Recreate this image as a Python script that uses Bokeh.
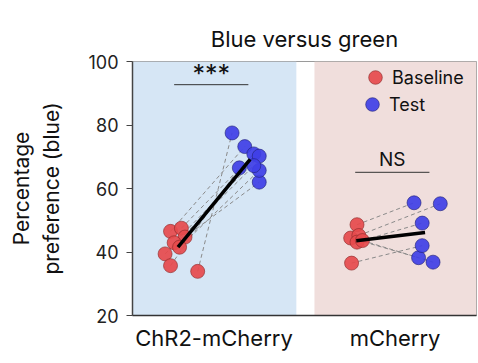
import numpy as np
from bokeh.plotting import figure
from bokeh.models import (Range1d, FixedTicker, BoxAnnotation, Legend, LegendItem,
                          ColumnDataSource)
from bokeh.core.properties import value
from bokeh.embed import file_html
from bokeh.resources import INLINE

FONT = "Inter"

categories = ["ChR2-mCherry", "mCherry"]
title_text = "Blue versus green"
y_label = "Percentage\npreference (blue)"
y_ticks = [20, 40, 60, 80, 100]
legend_labels = ["Baseline", "Test"]

# paired values (percentage preference for blue)
chr2_baseline = [46.5, 47.5, 44.7, 42.9, 41.5, 39.4, 35.7, 33.9]
chr2_test = [73.2, 70.9, 62.0, 70.2, 65.7, 67.2, 66.5, 77.5]
chr2_baseline_dx = [-0.24, -0.18, -0.16, -0.22, -0.19, -0.27, -0.24, -0.09]
chr2_test_dx = [0.17, 0.22, 0.25, 0.25, 0.25, 0.22, 0.14, 0.10]

mcherry_baseline = [48.6, 44.4, 45.2, 43.1, 43.6, 36.5]
mcherry_test = [55.5, 38.2, 55.2, 49.1, 36.8, 42.0]
mcherry_baseline_dx = [-0.21, -0.245, -0.20, -0.21, -0.18, -0.24]
mcherry_test_dx = [0.105, 0.13, 0.25, 0.15, 0.21, 0.15]

sig_labels = ["***", "NS"]
sig_line_y = [92.7, 65.1]

RED = "#e64a4c"
RED_EDGE = "#8e2a2a"
BLUE = "#3f3fe6"
BLUE_EDGE = "#22227a"

p = figure(width=478, height=363, output_backend="svg", toolbar_location=None,
           x_range=Range1d(-0.45, 1.45), y_range=Range1d(20, 100),
           min_border_left=132, min_border_right=2, min_border_top=61, min_border_bottom=48,
           title=title_text)
p.title.align = "center"
p.title.text_font = FONT
p.title.text_font_size = "22px"
p.title.text_font_style = "normal"
p.title.text_color = "#111111"
p.title.standoff = 20

p.xgrid.visible = False
p.ygrid.visible = False
p.outline_line_color = "#9a9a9a"
p.outline_line_width = 1
p.background_fill_color = "white"

# shaded group panels
p.add_layout(BoxAnnotation(left=-0.45, right=0.455, fill_color="#d6e6f5", fill_alpha=1.0,
                           line_alpha=0, level="underlay"))
p.add_layout(BoxAnnotation(left=0.555, right=1.45, fill_color="#f0dedc", fill_alpha=1.0,
                           line_alpha=0, level="underlay"))

# axes
p.yaxis.ticker = FixedTicker(ticks=y_ticks)
p.yaxis.major_tick_out = 6
p.yaxis.major_tick_in = 0
p.yaxis.minor_tick_line_color = None
p.yaxis.axis_line_color = "#444444"
p.yaxis.axis_line_width = 1.5
p.yaxis.major_tick_line_color = "#444444"
p.yaxis.major_label_text_font = FONT
p.yaxis.major_label_text_font_size = "18px"
p.yaxis.major_label_text_color = "#222222"
p.yaxis.major_label_standoff = 8
p.yaxis.axis_label = y_label
p.yaxis.axis_label_text_font = FONT
p.yaxis.axis_label_text_font_size = "21px"
p.yaxis.axis_label_text_font_style = "normal"
p.yaxis.axis_label_text_color = "#111111"
p.yaxis.axis_label_standoff = 21

p.xaxis.ticker = FixedTicker(ticks=list(range(len(categories))))
p.xaxis.major_label_overrides = {i: c for i, c in enumerate(categories)}
p.xaxis.major_tick_out = 0
p.xaxis.major_tick_in = 0
p.xaxis.minor_tick_line_color = None
p.xaxis.axis_line_color = "#333333"
p.xaxis.axis_line_width = 1.3
p.xaxis.major_label_text_font = FONT
p.xaxis.major_label_text_font_size = "22px"
p.xaxis.major_label_text_color = "#111111"
p.xaxis.major_label_standoff = 9

groups = [
    (chr2_baseline, chr2_test, chr2_baseline_dx, chr2_test_dx),
    (mcherry_baseline, mcherry_test, mcherry_baseline_dx, mcherry_test_dx),
]

base_renderers = []
test_renderers = []
for gi, (b, t, bdx, tdx) in enumerate(groups):
    bx = [gi + d for d in bdx]
    tx = [gi + d for d in tdx]
    p.segment(x0=bx, y0=b, x1=tx, y1=t, line_color="#8a8a8a", line_width=1,
              line_dash="4 3")
    rb = p.scatter(x=bx, y=b, size=14, marker="circle", fill_color=RED, fill_alpha=0.92,
                   line_color=RED_EDGE, line_width=0.8, line_alpha=0.8)
    rt = p.scatter(x=tx, y=t, size=14, marker="circle", fill_color=BLUE, fill_alpha=0.92,
                   line_color=BLUE_EDGE, line_width=0.8, line_alpha=0.8)
    base_renderers.append(rb)
    test_renderers.append(rt)
    # mean line
    p.line(x=[gi + np.mean(bdx), gi + np.mean(tdx)], y=[np.mean(b), np.mean(t)],
           line_color="black", line_width=3.5)

# significance bars
for gi, (lab, ly) in enumerate(zip(sig_labels, sig_line_y)):
    p.segment(x0=[gi - 0.22], y0=[ly], x1=[gi + 0.19], y1=[ly], line_color="#333333",
              line_width=1)
    src = ColumnDataSource(dict(x=[gi - 0.015], y=[ly], t=[lab]))
    p.text(x="x", y="y", text="t", source=src, text_font=value(FONT),
           text_font_size="25px" if lab == "***" else "19px", text_align="center",
           text_baseline="alphabetic", y_offset=-11 if lab == "***" else -13,
           text_color="#111111")

# legend: one Legend per entry so the row spacing can be matched
legend_locations = [(226, 221), (223, 194)]
for lab, rend, loc in zip(legend_labels, [base_renderers[0], test_renderers[0]],
                          legend_locations):
    lg = Legend(items=[LegendItem(label=lab, renderers=[rend])], location=loc)
    lg.background_fill_alpha = 0
    lg.border_line_alpha = 0
    lg.label_text_font = FONT
    lg.label_text_font_size = "18px"
    lg.label_text_color = "#111111"
    lg.glyph_width = 34
    lg.glyph_height = 34
    lg.label_standoff = -1
    lg.padding = 0
    lg.margin = 0
    p.add_layout(lg)

open("out.html", "w").write(file_html(p, INLINE))
